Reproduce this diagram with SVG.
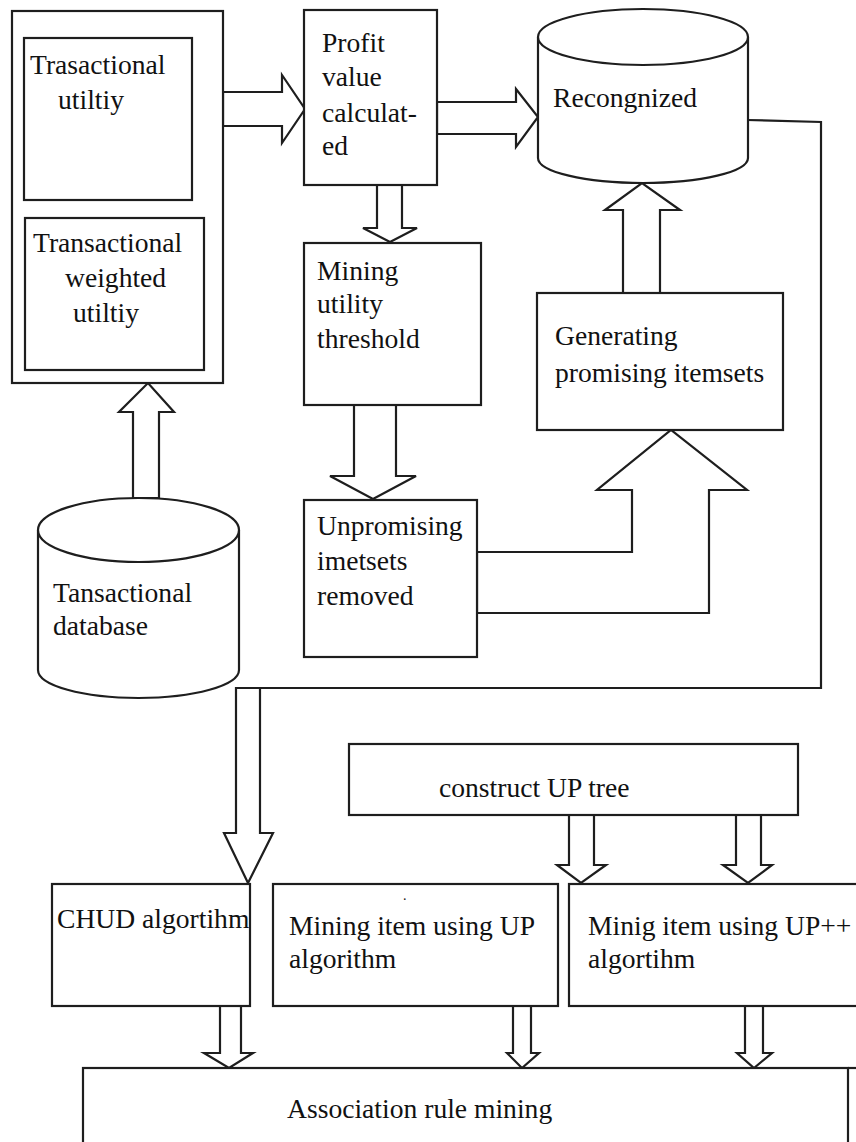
<svg xmlns="http://www.w3.org/2000/svg" width="856" height="1142" viewBox="0 0 856 1142">
<style>
.box{fill:#fff;stroke:#1e1e1e;stroke-width:2.2}
.arr{fill:#fff;stroke:#1e1e1e;stroke-width:2.2;stroke-linejoin:miter}
.ln{fill:none;stroke:#1e1e1e;stroke-width:2.2}
text{font-family:"Liberation Serif","Times New Roman",serif;font-size:27.6px;fill:#111}
</style>
<rect width="856" height="1142" fill="#fff"/>
<g id="connectors">
<polygon class="arr" points="223,92 282,92 282,75 305,109 282,143 282,126 223,126"/>
<polygon class="arr" points="437,102 516,102 516,89 538,117 516,147 516,134 437,134"/>
<polygon class="arr" points="377,185 402,185 402,228 417,228 390,242 363,228 377,228"/>
<polygon class="arr" points="354,405 396,405 396,476 416,476 373,499 330,476 354,476"/>
<polygon class="arr" points="477,552 632,552 632,490 597,490 671,430 747,490 709,490 709,613 477,613"/>
<polygon class="arr" points="623,293 623,210 605,210 642,183 680,210 660,210 660,293"/>
<polygon class="arr" points="133,498 133,412 119,412 148,383 174,412 159,412 159,498"/>
<path class="ln" d="M747,120 L821,122 L821,688 L260,688"/>
<polygon class="arr" points="236,688 260,688 260,833 273,833 248,883 224,833 236,833"/>
<polygon class="arr" points="569,815 594,815 594,865 606,865 581,883 557,865 569,865"/>
<polygon class="arr" points="736,815 761,815 761,865 772,865 748,883 723,865 736,865"/>
<polygon class="arr" points="220,1005 241,1005 241,1053 253,1053 229,1068 204,1053 220,1053"/>
<polygon class="arr" points="513,1006 531,1006 531,1053 539,1053 522,1068 507,1053 513,1053"/>
<polygon class="arr" points="745,1006 763,1006 763,1053 772,1053 754,1068 737,1053 745,1053"/>
</g>
<g id="node-left-group">
<rect class="box" x="12" y="11" width="211" height="372"/>
</g>
<g id="node-transactional-utility">
<rect class="box" x="24" y="38" width="168" height="162"/>
<text x="30" y="74">Trasactional</text>
<text x="58" y="109">utiltiy</text>
</g>
<g id="node-twu">
<rect class="box" x="25" y="218" width="179" height="152"/>
<text x="33" y="252">Transactional</text>
<text x="65" y="287">weighted</text>
<text x="73" y="322">utiltiy</text>
</g>
<g id="node-profit">
<rect class="box" x="304" y="10" width="133" height="175"/>
<text x="322" y="52">Profit</text>
<text x="322" y="86">value</text>
<text x="322" y="122">calculat-</text>
<text x="322" y="155">ed</text>
</g>
<g id="node-recognized">
<path class="box" d="M538,37 L538,158 A105,25 0 0 0 748,158 L748,37"/>
<ellipse class="box" cx="643" cy="37" rx="105" ry="28"/>
<text x="553" y="107">Recongnized</text>
</g>
<g id="node-mining-threshold">
<rect class="box" x="304" y="243" width="177" height="162"/>
<text x="317" y="280">Mining</text>
<text x="317" y="313">utility</text>
<text x="317" y="348">threshold</text>
</g>
<g id="node-generating">
<rect class="box" x="537" y="293" width="246" height="137"/>
<text x="555" y="345">Generating</text>
<text x="555" y="382">promising itemsets</text>
</g>
<g id="node-unpromising">
<rect class="box" x="304" y="500" width="173" height="157"/>
<text x="317" y="535">Unpromising</text>
<text x="317" y="570">imetsets</text>
<text x="317" y="605">removed</text>
</g>
<g id="node-database">
<path class="box" d="M38,530 L38,670 A100.5,28 0 0 0 239,670 L239,530"/>
<ellipse class="box" cx="138.5" cy="530" rx="100.5" ry="32"/>
<text x="53" y="602">Tansactional</text>
<text x="53" y="635">database</text>
</g>
<g id="node-construct">
<rect class="box" x="349" y="744" width="449" height="71"/>
<text x="439" y="797">construct UP tree</text>
</g>
<g id="node-chud">
<rect class="box" x="52" y="884" width="198" height="122"/>
<text x="57" y="928">CHUD algortihm</text>
</g>
<g id="node-up">
<rect class="box" x="273" y="884" width="285" height="122"/>
<text x="403" y="900" style="font-size:14px">.</text>
<text x="289" y="935">Mining item using UP</text>
<text x="289" y="968">algorithm</text>
</g>
<g id="node-upplus">
<rect class="box" x="569" y="884" width="300" height="122"/>
<text x="588" y="935">Minig item using UP++</text>
<text x="588" y="968">algortihm</text>
</g>
<g id="node-association">
<rect class="box" x="83" y="1068" width="765" height="100"/>
<path class="ln" d="M848,1068 L856,1068"/>
<text x="287" y="1118">Association rule mining</text>
</g>
</svg>
